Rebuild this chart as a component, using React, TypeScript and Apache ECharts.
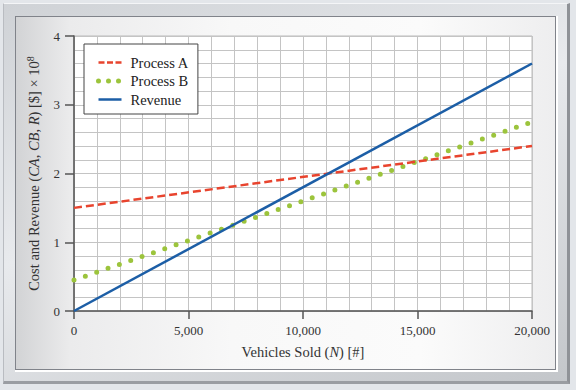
import React, { useEffect, useRef } from "react";
import * as echarts from "echarts";

const vehicles = [0, 20000];
const processA = [1.5, 2.4];
const processB = [0.45, 2.75];
const revenue = [0, 3.6];
const seriesNames = ["Process A", "Process B", "Revenue"];

const SERIF = "'Liberation Serif', 'DejaVu Serif', serif";

export default function App() {
  const ref = useRef<HTMLDivElement>(null);
  useEffect(() => {
    document.body.style.margin = "0";
    if (!ref.current) return;
    const chart = echarts.init(ref.current, null, { renderer: "svg" });
    const pts = (ys: number[]) => vehicles.map((x, i) => [x, ys[i]]);
    const axisLabel = { fontFamily: SERIF, fontSize: 13, color: "#333" };
    const gridLine = { lineStyle: { color: "#c4c4c4", width: 1 } };
    chart.setOption({
      animation: false,
      backgroundColor: "transparent",
      grid: {
        left: 74,
        top: 36,
        width: 458,
        height: 275,
        show: true,
        backgroundColor: "#fff",
        borderColor: "#bbb",
        borderWidth: 1,
      },
      legend: {
        orient: "vertical",
        left: 84,
        top: 44,
        backgroundColor: "#fff",
        borderColor: "#444",
        borderWidth: 1,
        padding: [11, 9, 7, 12],
        itemWidth: 23,
        itemHeight: 14,
        itemGap: 3.5,
        itemStyle: { opacity: 0 },
        textStyle: { fontFamily: SERIF, fontSize: 14.5, color: "#222", padding: [0, 0, 0, 4] },
        data: [
          { name: seriesNames[0], lineStyle: { type: [6, 2.5], width: 2.5, opacity: 1 } },
          { name: seriesNames[1], lineStyle: { type: [0, 10], width: 5, cap: "round", opacity: 1 } },
          { name: seriesNames[2], lineStyle: { width: 2.5, opacity: 1 } },
        ],
      },
      xAxis: {
        type: "value",
        min: 0,
        max: 20000,
        interval: 5000,
        name: "{n|Vehicles Sold (}{i|N}{n|) [#]}",
        nameLocation: "middle",
        nameGap: 33,
        nameTextStyle: {
          rich: {
            n: { fontFamily: SERIF, fontSize: 14.5, color: "#333" },
            i: { fontFamily: SERIF, fontSize: 14.5, color: "#333", fontStyle: "italic" },
          },
        },
        axisLine: { show: true, lineStyle: { color: "#555", width: 1.5 } },
        axisTick: { show: true, length: 8, lineStyle: { color: "#555", width: 1.5 } },
        axisLabel: {
          ...axisLabel,
          margin: 13,
          formatter: (v: number) => v.toLocaleString("en-US"),
        },
        splitLine: { show: true, ...gridLine },
        minorTick: { show: false, splitNumber: 5 },
        minorSplitLine: { show: true, ...gridLine },
      },
      yAxis: {
        type: "value",
        min: 0,
        max: 4,
        interval: 1,
        name: "{n|Cost and Revenue (}{i|CA}{n|, }{i|CB}{n|, }{i|R}{n|) [$] × 10}{s|8}",
        nameLocation: "middle",
        nameGap: 30,
        nameRotate: 90,
        nameTextStyle: {
          rich: {
            n: { fontFamily: SERIF, fontSize: 14.5, color: "#333", lineHeight: 17 },
            i: { fontFamily: SERIF, fontSize: 14.5, color: "#333", fontStyle: "italic", lineHeight: 17 },
            s: { fontFamily: SERIF, fontSize: 10, color: "#333", lineHeight: 17, verticalAlign: "top", padding: [0, 0, 7, 0] },
          },
        },
        axisLine: { show: true, lineStyle: { color: "#555", width: 1.5 } },
        axisTick: { show: true, length: 9, lineStyle: { color: "#555", width: 1.5 } },
        axisLabel: { ...axisLabel, margin: 14 },
        splitLine: { show: true, ...gridLine },
        minorTick: { show: false, splitNumber: 5 },
        minorSplitLine: { show: true, ...gridLine },
      },
      series: [
        {
          name: seriesNames[0],
          type: "line",
          data: pts(processA),
          symbol: "none",
          color: "#e8442e",
          lineStyle: { color: "#e8442e", width: 2.5, type: [8, 4] },
          z: 3,
        },
        {
          name: seriesNames[1],
          type: "line",
          data: pts(processB),
          symbol: "none",
          color: "#9cc43c",
          lineStyle: { color: "#9cc43c", width: 5, type: [0, 12], cap: "round" },
          z: 2,
        },
        {
          name: seriesNames[2],
          type: "line",
          data: pts(revenue),
          symbol: "none",
          color: "#1c5ea6",
          lineStyle: { color: "#1c5ea6", width: 2.5 },
          z: 4,
        },
      ],
    });
    return () => chart.dispose();
  }, []);

  return (
    <div
      style={{
        position: "fixed",
        left: 0,
        top: 0,
        width: 576,
        height: 390,
        background: "#e3e6ea",
        overflow: "hidden",
      }}
    >
      <div
        style={{
          position: "absolute",
          left: 3,
          top: 3,
          width: 563,
          height: 377,
          background: "linear-gradient(160deg, #cfd2d6 0%, #e8eaed 45%, #c3c6ca 100%)",
          borderTop: "1px solid #f4f5f7",
          borderLeft: "1px solid #b9bcc1",
          borderRight: "3px solid #8f9297",
          borderBottom: "3px solid #9a9da2",
        }}
      />
      <div
        style={{
          position: "absolute",
          left: 15,
          top: 16,
          width: 539,
          height: 352,
          background:
            "linear-gradient(90deg, #d2d3d5 0%, #ebebec 10%, #f8f8f8 40%, #fbfbfb 75%, #eeeeef 100%)",
          border: "1px solid #80838a",
          boxShadow: "1px 1px 0 1px #ffffff",
        }}
      />
      <div ref={ref} style={{ position: "absolute", left: 0, top: 0, width: 576, height: 390 }} />
    </div>
  );
}
